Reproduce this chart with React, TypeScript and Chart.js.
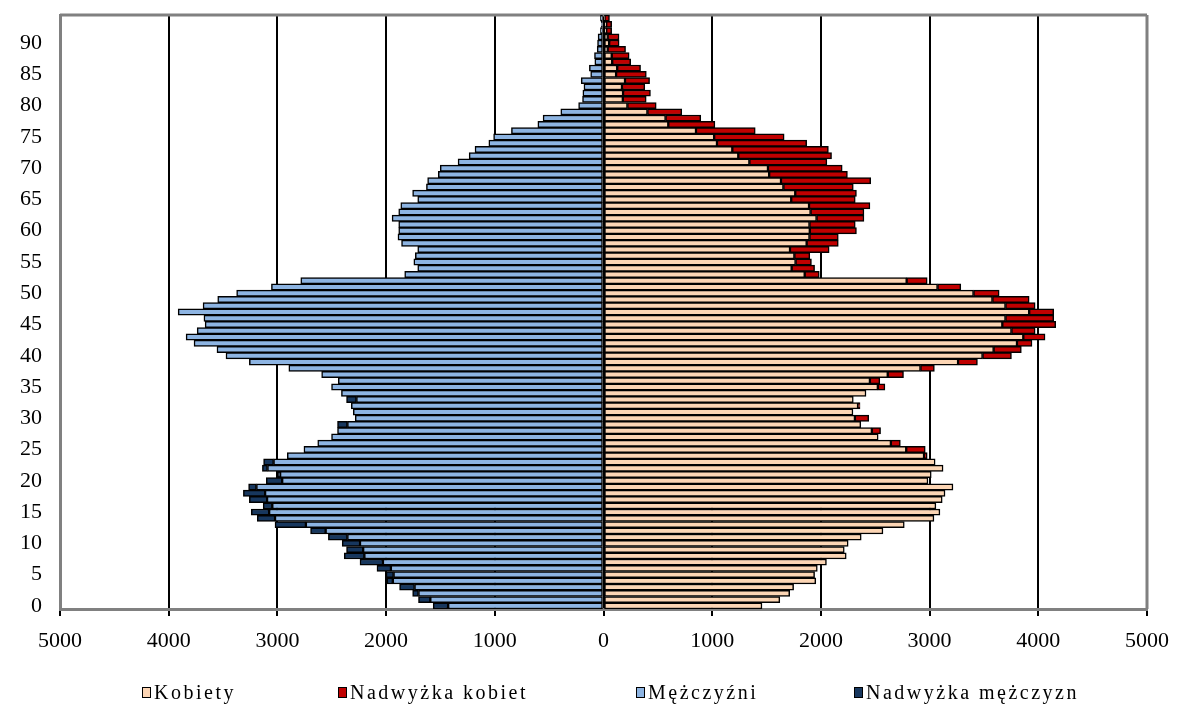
import React, { useEffect, useRef } from 'react';
import { Chart, registerables } from 'chart.js';

Chart.register(...registerables);

const AGES = [
  '0', '1', '2', '3', '4', '5', '6', '7', '8', '9',
  '10', '11', '12', '13', '14', '15', '16', '17', '18', '19',
  '20', '21', '22', '23', '24', '25', '26', '27', '28', '29',
  '30', '31', '32', '33', '34', '35', '36', '37', '38', '39',
  '40', '41', '42', '43', '44', '45', '46', '47', '48', '49',
  '50', '51', '52', '53', '54', '55', '56', '57', '58', '59',
  '60', '61', '62', '63', '64', '65', '66', '67', '68', '69',
  '70', '71', '72', '73', '74', '75', '76', '77', '78', '79',
  '80', '81', '82', '83', '84', '85', '86', '87', '88', '89',
  '90', '91', '92', '93', '94',
];

// Kobiety (peach) — ages 0..94
const WOMEN = [
  1458, 1622, 1713, 1749, 1953, 1942, 1967, 2051, 2233, 2215,
  2251, 2371, 2571, 2767, 3040, 3095, 3058, 3116, 3142, 3215,
  2985, 3015, 3124, 3051, 2949, 2785, 2644, 2527, 2469, 2367,
  2313, 2295, 2342, 2298, 2415, 2524, 2451, 2615, 2916, 3262,
  3487, 3589, 3804, 3862, 3753, 3669, 3698, 3916, 3698, 3578,
  3404, 3073, 2789, 1851, 1731, 1767, 1756, 1716, 1869, 1895,
  1898, 1895, 1960, 1905, 1891, 1727, 1764, 1655, 1633, 1524,
  1513, 1342, 1240, 1185, 1044, 1018, 851, 596, 571, 404,
  220, 178, 180, 170, 198, 116, 126, 80, 76, 38,
  52, 38, 25, 25, 10,
];

// Nadwyżka kobiet (red)
const WOMEN_EXCESS = [
  0, 0, 0, 0, 0, 0, 0, 0, 0, 0,
  0, 0, 0, 0, 0, 0, 0, 0, 0, 0,
  0, 0, 0, 0, 29, 175, 87, 0, 80, 0,
  127, 0, 18, 0, 0, 65, 91, 145, 128, 178,
  266, 255, 138, 200, 218, 491, 444, 226, 273, 338,
  236, 214, 189, 134, 211, 146, 142, 360, 291, 265,
  429, 421, 436, 491, 560, 589, 563, 643, 825, 720,
  683, 713, 858, 884, 825, 644, 545, 429, 324, 316,
  265, 215, 252, 210, 226, 278, 215, 170, 160, 165,
  92, 105, 50, 50, 45,
];

// Mężczyźni (light blue)
const MEN = [
  1429, 1593, 1702, 1738, 1938, 1931, 1956, 2029, 2200, 2211,
  2240, 2356, 2556, 2738, 3022, 3076, 3047, 3095, 3113, 3193,
  2956, 2975, 3091, 3035, 2909, 2756, 2629, 2502, 2447, 2356,
  2284, 2302, 2320, 2273, 2411, 2502, 2440, 2593, 2895, 3258,
  3473, 3556, 3767, 3840, 3738, 3665, 3676, 3913, 3684, 3549,
  3375, 3055, 2785, 1829, 1709, 1745, 1731, 1709, 1858, 1891,
  1884, 1884, 1945, 1884, 1865, 1709, 1756, 1629, 1618, 1520,
  1502, 1338, 1236, 1182, 1055, 1011, 847, 604, 556, 393,
  229, 193, 190, 180, 205, 118, 130, 80, 83, 58,
  55, 50, 28, 21, 28,
];

// Nadwyżka mężczyzn (navy)
const MEN_EXCESS = [
  138, 109, 54, 138, 55, 69, 128, 211, 185, 153,
  164, 175, 139, 284, 163, 164, 84, 163, 200, 72,
  146, 18, 47, 92, 0, 0, 0, 0, 0, 91,
  0, 0, 0, 91, 0, 0, 0, 0, 0, 0,
  0, 0, 0, 0, 0, 0, 0, 0, 0, 0,
  0, 0, 0, 0, 0, 0, 0, 0, 0, 0,
  0, 0, 0, 0, 0, 0, 0, 0, 0, 0,
  0, 0, 0, 0, 0, 0, 0, 0, 0, 0,
  0, 0, 0, 0, 0, 0, 0, 0, 0, 0,
  0, 0, 0, 0, 0,
];

const Y_TICK_LABELS = ['0', '5', '10', '15', '20', '25', '30', '35', '40', '45', '50', '55', '60', '65', '70', '75', '80', '85', '90'];
const X_MIN = -5000;
const X_MAX = 5000;
const X_STEP = 1000;

const SERIES_NAMES = ['Kobiety', 'Nadwyżka kobiet', 'Mężczyźni', 'Nadwyżka mężczyzn'];
const SERIES_COLORS = ['#FCD5B4', '#C00000', '#8DB4E2', '#17375E'];
const LEGEND_LEFT = [142, 338, 636, 854];

const FONT = '"Liberation Serif", "Times New Roman", serif';

const framePlugin = {
  id: 'frame',
  beforeDatasetsDraw(chart: any) {
    const { ctx, chartArea } = chart;
    const { left, right, top, bottom } = chartArea;
    ctx.save();
    ctx.strokeStyle = '#808080';
    ctx.lineWidth = 3;
    ctx.beginPath();
    ctx.moveTo(left, top);
    ctx.lineTo(right, top);
    ctx.moveTo(right, top);
    ctx.lineTo(right, bottom);
    ctx.stroke();
    ctx.restore();
  },
};

export default function App() {
  const canvasRef = useRef<HTMLCanvasElement | null>(null);

  useEffect(() => {
    if (!canvasRef.current) return;
    const common = {
      borderColor: '#000000',
      borderWidth: 1.5,
      borderSkipped: false,
      barPercentage: 1,
      categoryPercentage: 1,
    };
    const chart = new Chart(canvasRef.current, {
      type: 'bar',
      data: {
        labels: AGES,
        datasets: [
          { label: SERIES_NAMES[0], data: WOMEN, backgroundColor: SERIES_COLORS[0], ...common },
          { label: SERIES_NAMES[1], data: WOMEN_EXCESS, backgroundColor: SERIES_COLORS[1], ...common },
          { label: SERIES_NAMES[2], data: MEN.map((v) => -v), backgroundColor: SERIES_COLORS[2], ...common },
          { label: SERIES_NAMES[3], data: MEN_EXCESS.map((v) => -v), backgroundColor: SERIES_COLORS[3], ...common },
        ],
      },
      options: {
        indexAxis: 'y',
        animation: false,
        responsive: false,
        maintainAspectRatio: false,
        layout: { padding: { left: 0, right: 30, top: 15, bottom: 0 } },
        plugins: {
          legend: { display: false },
          tooltip: { enabled: false },
        },
        scales: {
          x: {
            type: 'linear',
            stacked: true,
            min: X_MIN,
            max: X_MAX,
            ticks: {
              stepSize: X_STEP,
              color: '#000',
              font: { family: FONT, size: 22 },
              padding: 12,
              callback: (v: any) => String(Math.abs(Number(v))),
            },
            grid: {
              color: (c: any) => (c.tick && (c.tick.value === X_MIN || c.tick.value === X_MAX) ? 'rgba(0,0,0,0)' : '#000'),
              lineWidth: 2,
              tickColor: '#000',
              tickLength: 7,
              tickWidth: 2,
            },
            border: { display: true, color: '#808080', width: 3 },
            afterFit: (scale: any) => {
              scale.height = 95;
              scale.paddingLeft = 0;
              scale.paddingRight = 0;
            },
          },
          y: {
            type: 'category',
            stacked: true,
            reverse: true,
            grid: { display: false, drawTicks: false },
            border: { display: true, color: '#808080', width: 3 },
            ticks: {
              autoSkip: false,
              color: '#000',
              font: { family: FONT, size: 22 },
              padding: 18,
              callback: (_v: any, i: number) => (Y_TICK_LABELS.includes(AGES[i]) ? AGES[i] : null),
            },
            afterFit: (scale: any) => {
              scale.width = 60;
              scale.paddingTop = 0;
              scale.paddingBottom = 0;
            },
          },
        },
      },
      plugins: [framePlugin],
    } as any);
    return () => chart.destroy();
  }, []);

  return (
    <div style={{ position: 'fixed', left: 0, top: 0, width: 1177, height: 704, background: '#fff' }}>
      <canvas ref={canvasRef} width={1177} height={704} style={{ width: 1177, height: 704, display: 'block' }} />
      {SERIES_NAMES.map((name, i) => (
        <div
          key={name}
          style={{
            position: 'absolute',
            left: LEGEND_LEFT[i],
            top: 679,
            height: 26,
            display: 'flex',
            alignItems: 'center',
            fontFamily: FONT,
            fontSize: 20,
            letterSpacing: '2.5px',
            color: '#000',
            whiteSpace: 'nowrap',
          }}
        >
          <span
            style={{
              display: 'inline-block',
              width: 7,
              height: 9,
              background: SERIES_COLORS[i],
              border: '1.5px solid #000',
              marginRight: 3,
            }}
          />
          <span>{name}</span>
        </div>
      ))}
    </div>
  );
}
